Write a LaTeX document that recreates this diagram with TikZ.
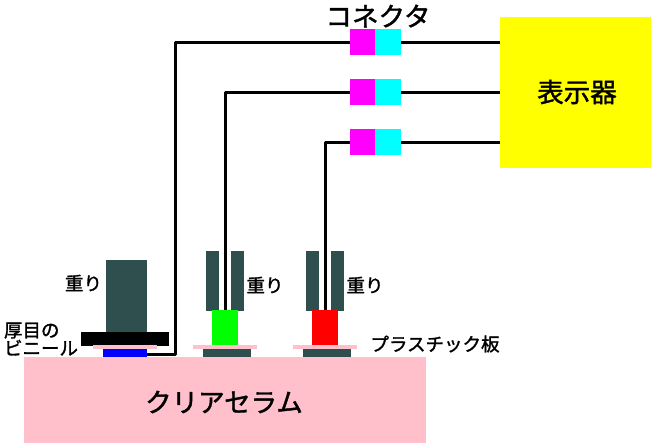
\documentclass[tikz,border=0pt]{standalone}
\usepackage{fontspec}
\setmainfont[FakeBold=1.5]{Noto Sans CJK JP}
\definecolor{slate}{HTML}{2F4F4F}
\definecolor{softpink}{HTML}{FFC0CB}
\definecolor{puremagenta}{HTML}{FF00FF}
\definecolor{purecyan}{HTML}{00FFFF}
\definecolor{pureyellow}{HTML}{FFFF00}
\definecolor{pureblue}{HTML}{0000FF}
\definecolor{puregreen}{HTML}{00FF00}
\definecolor{purered}{HTML}{FF0000}
\tikzset{
	part/.style n args={3}{fill=#1, draw=none, inner sep=0pt, outer sep=0pt, minimum width=#2pt, minimum height=#3pt},
	wire/.style={draw=black, line width=3pt, line join=round},
	smalltext/.style={inner sep=0pt, align=left, font=\fontsize{18.5}{18}\selectfont},
	bigtext/.style={inner sep=0pt, font=\fontsize{26.5}{26}\selectfont},
}
\begin{document}
\begin{tikzpicture}[x=1pt, y=-1pt]
	\useasboundingbox (0,0) rectangle (651,445);
	\node[part={softpink}{402}{86}] (ceramic) at (225,400) {};
	\node[part={pureyellow}{151}{151}] (display) at (575.5,92.5) {};
	% connectors
	\node[part={puremagenta}{25}{26}] (magA) at (362.5,42) {};
	\node[part={purecyan}{26}{26}] (cyanA) at (388,42) {};
	\node[part={puremagenta}{25}{26}] (magB) at (362.5,92) {};
	\node[part={purecyan}{26}{26}] (cyanB) at (388,92) {};
	\node[part={puremagenta}{25}{26}] (magC) at (362.5,142) {};
	\node[part={purecyan}{26}{26}] (cyanC) at (388,142) {};
	% left stack
	\node[part={slate}{41}{73}] (weightA) at (126.5,296.5) {};
	\node[part={black}{88}{14}] (vinyl) at (125,339) {};
	\node[part={softpink}{64}{4}] (plateA) at (125,347) {};
	\node[part={pureblue}{44}{8}] (sensorA) at (125,353) {};
	% middle stack
	\node[part={slate}{13}{60}] (weightBl) at (212.5,281) {};
	\node[part={slate}{13}{60}] (weightBr) at (237.5,281) {};
	\node[part={puregreen}{26}{35}] (sensorB) at (225,327.5) {};
	\node[part={softpink}{64}{4}] (plateB) at (225,347) {};
	\node[part={slate}{48}{8}] (baseB) at (227,353) {};
	% right stack
	\node[part={slate}{13}{60}] (weightCl) at (312.5,281) {};
	\node[part={slate}{13}{60}] (weightCr) at (337.5,281) {};
	\node[part={purered}{26}{35}] (sensorC) at (325,327.5) {};
	\node[part={softpink}{64}{4}] (plateC) at (325,347) {};
	\node[part={slate}{48}{8}] (baseC) at (327,353) {};
	% wires
	\coordinate (bendA) at (175.5,354);
	\draw[wire] (magA.west) -| (bendA) -- (sensorA.east |- bendA);
	\draw[wire] (magB.west) -| ([xshift=.5pt]sensorB.north);
	\draw[wire] (magC.west) -| ([xshift=.5pt]sensorC.north);
	\draw[wire] (cyanA.east) -- (display.west |- cyanA.east);
	\draw[wire] (cyanB.east) -- (display.west |- cyanB.east);
	\draw[wire] (cyanC.east) -- (display.west |- cyanC.east);
	% labels
	\node[bigtext] (lblConn) at (378,16) {コネクタ};
	\node[bigtext] (lblDisp) at (577,92) {表示器};
	\node[bigtext] (lblCer) at (224,402) {クリアセラム};
	\node[smalltext] (lblWa) at (83.5,283) {重り};
	\node[smalltext] (lblWb) at (265,285) {重り};
	\node[smalltext] (lblWc) at (365,285) {重り};
	\node[smalltext] (lblVinyl) at (41,339) {厚目の\\ビニール};
	\node[smalltext] (lblPlate) at (435,344) {プラスチック板};
\end{tikzpicture}
\end{document}
